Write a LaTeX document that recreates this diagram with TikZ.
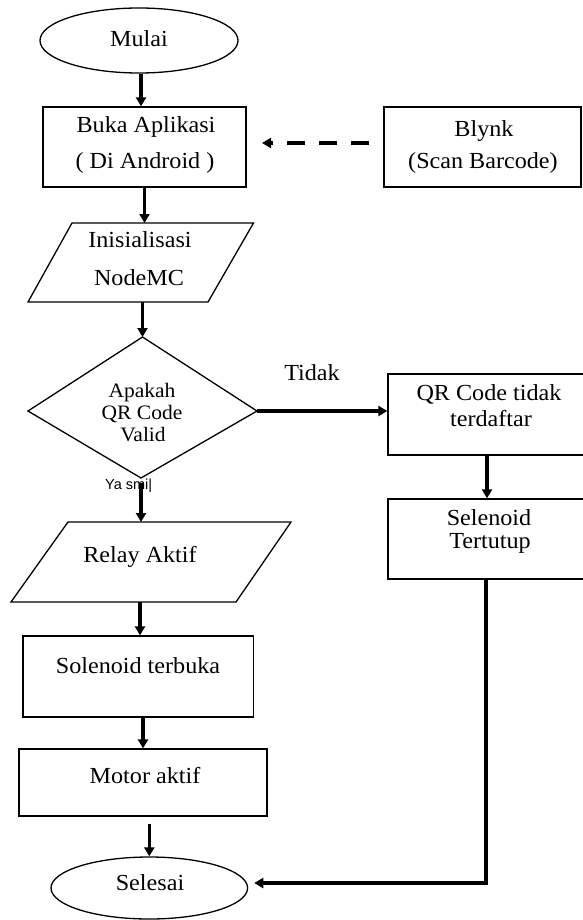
\documentclass[tikz,border=0pt]{standalone}
\usepackage{fontspec}
\setmainfont{Liberation Serif}[FakeStretch=1.05]
\setsansfont{Liberation Sans}
\usetikzlibrary{shapes.geometric,arrows.meta}
\begin{document}
\begin{tikzpicture}[x=1pt,y=-1pt,
  shapeline/.style={draw=black, line width=1.3pt},
  box/.style={shapeline, rectangle, inner sep=0pt},
  oval/.style={shapeline, ellipse, inner sep=0pt},
  txt/.style={anchor=base, inner sep=0pt, font=\fontsize{23}{25}\selectfont},
  dtxt/.style={anchor=base, inner sep=0pt, font=\fontsize{20.5}{22}\selectfont},
  arr/.style={line width=3.2pt, -{Triangle[length=9pt,width=10pt]}},
  dasharr/.style={arr, dash pattern=on 18pt off 14pt},
]
\useasboundingbox (0,0) rectangle (582,920);

% ---- shapes ----
\node[oval, minimum width=198pt, minimum height=65pt] (mulai) at (139,40.5) {};
\node[box, minimum width=203pt, minimum height=80pt] (buka) at (144.5,147) {};
\node[box, minimum width=197pt, minimum height=80pt] (blynk) at (482.5,147) {};

\coordinate (inisT) at (144.5,223);
\coordinate (inisB) at (142.5,302);
\draw[shapeline] (72,223) -- (253.5,223) -- (208,302) -- (28,302) -- cycle;

\coordinate (dT) at (142.5,337);
\coordinate (dL) at (28,411);
\coordinate (dR) at (257,411);
\coordinate (dB) at (141,478);
\draw[shapeline] (dT) -- (dR) -- (dB) -- (dL) -- cycle;

\node[box, minimum width=212pt, minimum height=81pt] (qr) at (494,414.5) {};
\node[box, minimum width=212pt, minimum height=80pt] (selT) at (494,539) {};

\coordinate (relayT) at (141,522);
\coordinate (relayB) at (140,602);
\draw[shapeline] (68,522) -- (291,522) -- (236,602) -- (11,602) -- cycle;

\node[box, minimum width=230.5pt, minimum height=81pt] (sol) at (138.25,676.5) {};
\node[box, minimum width=248pt, minimum height=67pt] (motor) at (143,782.5) {};
\node[oval, minimum width=196.6pt, minimum height=62pt] (selesai) at (149.3,888) {};

% ---- texts ----
\node[txt] (tmulai) at (139,47) {Mulai};
\node[txt] (tbuka1) at (146,133) {Buka Aplikasi};
\node[txt] (tbuka2) at (145,168) {( Di Android )};
\node[txt] (tblynk1) at (484,137) {Blynk};
\node[txt] (tblynk2) at (483,168) {(Scan Barcode)};
\node[txt] (tinis1) at (140,247) {Inisialisasi};
\node[txt] (tinis2) at (139,285) {NodeMC};
\node[dtxt] (tq1) at (142,397) {Apakah};
\node[dtxt] (tq2) at (142,419) {QR Code};
\node[dtxt] (tq3) at (143,441) {Valid};
\node[txt] (ttidak) at (312,380) {Tidak};
\node[txt] (tqr1) at (489,400) {QR Code tidak};
\node[txt] (tqr2) at (491,426) {terdaftar};
\node[txt] (tsel1) at (489,525) {Selenoid};
\node[txt] (tsel2) at (490,548) {Tertutup};
\node[txt] (trelay) at (140,562) {Relay Aktif};
\node[txt] (tsol) at (138,673) {Solenoid terbuka};
\node[txt] (tmotor) at (145,783) {Motor aktif};
\node[txt] (tselesai) at (150,890) {Selesai};
\node[anchor=base west, inner sep=0pt, font=\sffamily\fontsize{14.5}{16}\selectfont] (tya) at (105,489) {Ya smi|};

% ---- connectors ----
\draw[arr] (mulai.south -| 141,0) -- (buka.north -| 141,0);
\draw[arr] (buka.south) -- (inisT);
\draw[arr] (inisB) -- (dT);
\draw[dasharr] (blynk.west -| 369,0) ++(0,-4) -- (262,143);
\draw[arr] (dR) -- (dR -| qr.west);
\draw[arr] (dB |- 0,483) -- (relayT);
\draw[arr] ([xshift=-7pt]qr.south) -- ([xshift=-7pt]selT.north);
\draw[arr] (relayB) -- (relayB |- sol.north);
\draw[arr] (motor.north |- sol.south) -- (motor.north);
\draw[arr] ([yshift=-7pt]motor.south -| selesai.north) -- (selesai.north);
\draw[arr] ([xshift=-8pt]selT.south) |- ([xshift=6pt,yshift=5pt]selesai.east);
\end{tikzpicture}
\end{document}
